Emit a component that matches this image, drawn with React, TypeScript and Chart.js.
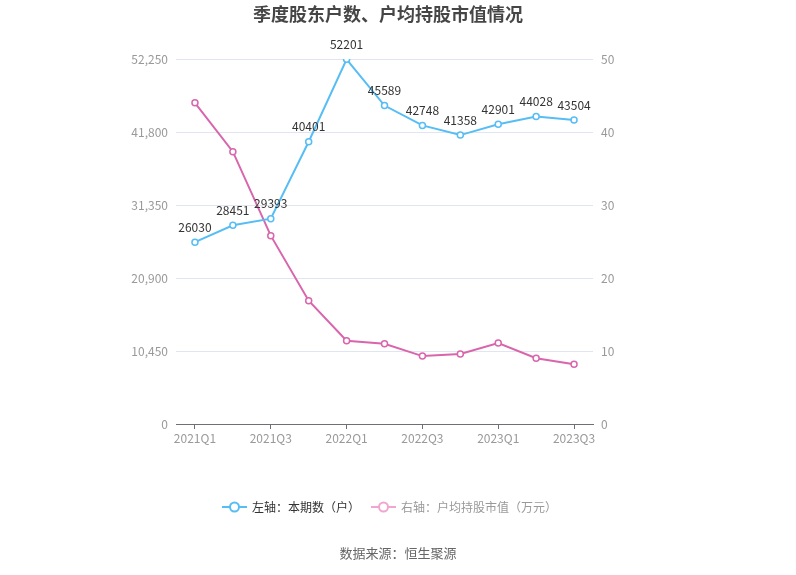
import React, { useEffect, useRef } from "react";
import { Chart, registerables } from "chart.js";

Chart.register(...registerables);

const categories = ["2021Q1", "2021Q2", "2021Q3", "2021Q4", "2022Q1", "2022Q2", "2022Q3", "2022Q4", "2023Q1", "2023Q2", "2023Q3"];
const holders = [26030, 28451, 29393, 40401, 52201, 45589, 42748, 41358, 42901, 44028, 43504];
const avgValue = [44.0, 37.3, 25.8, 16.9, 11.4, 11.0, 9.3, 9.6, 11.1, 9.0, 8.2];
const leftTicks = { min: 0, max: 52250, step: 10450 };
const rightTicks = { min: 0, max: 50, step: 10 };

const TITLE = "季度股东户数、户均持股市值情况";
const SOURCE = "数据来源：恒生聚源";
const LEGEND_LEFT = "左轴：本期数（户）";
const LEGEND_RIGHT = "右轴：户均持股市值（万元）";

const BLUE = "#56bdf5";
const PINK = "#d965ad";
const FONT = '"Noto Sans CJK SC", "Noto Sans", sans-serif';

const decorPlugin = {
  id: "decor",
  afterDatasetsDraw(chart: any) {
    const ctx = chart.ctx;
    ctx.save();
    // data labels
    const meta = chart.getDatasetMeta(0);
    ctx.font = `12px ${FONT}`;
    ctx.fillStyle = "#333";
    ctx.textAlign = "center";
    ctx.textBaseline = "middle";
    meta.data.forEach((pt: any, i: number) => {
      ctx.fillText(String(holders[i]), pt.x, pt.y - 15);
    });
    ctx.restore();
  },
  afterDraw(chart: any) {
    const ctx = chart.ctx;
    ctx.save();
    // title
    ctx.font = `bold 18px ${FONT}`;
    ctx.fillStyle = "#464646";
    ctx.textAlign = "center";
    ctx.textBaseline = "middle";
    ctx.fillText(TITLE, 388, 14);
    // source
    ctx.font = `13px ${FONT}`;
    ctx.fillStyle = "#666";
    ctx.fillText(SOURCE, 398, 553);
    // legend
    const ly = 507;
    const drawItem = (x0: number, color: string, text: string, textColor: string) => {
      ctx.strokeStyle = color;
      ctx.lineWidth = 2;
      ctx.beginPath();
      ctx.moveTo(x0, ly);
      ctx.lineTo(x0 + 25, ly);
      ctx.stroke();
      ctx.beginPath();
      ctx.arc(x0 + 12.5, ly, 4.5, 0, Math.PI * 2);
      ctx.fillStyle = "#fff";
      ctx.fill();
      ctx.stroke();
      ctx.font = `12px ${FONT}`;
      ctx.fillStyle = textColor;
      ctx.textAlign = "left";
      ctx.textBaseline = "middle";
      ctx.fillText(text, x0 + 30, ly);
    };
    drawItem(222, BLUE, LEGEND_LEFT, "#333");
    drawItem(371, "#f0a6cf", LEGEND_RIGHT, "#999");
    ctx.restore();
  },
};

export default function App() {
  const ref = useRef<HTMLCanvasElement>(null);
  useEffect(() => {
    if (!ref.current) return;
    const chart = new Chart(ref.current, {
      type: "line",
      data: {
        labels: categories,
        datasets: [
          {
            label: LEGEND_LEFT,
            data: holders,
            yAxisID: "y",
            borderColor: BLUE,
            backgroundColor: "#fff",
            borderWidth: 2,
            pointRadius: 3,
            pointBorderWidth: 1.5,
            pointBackgroundColor: "#fff",
            pointBorderColor: BLUE,
            tension: 0,
          },
          {
            label: LEGEND_RIGHT,
            data: avgValue,
            yAxisID: "y1",
            borderColor: PINK,
            backgroundColor: "#fff",
            borderWidth: 2,
            pointRadius: 3,
            pointBorderWidth: 1.5,
            pointBackgroundColor: "#fff",
            pointBorderColor: PINK,
            tension: 0,
          },
        ],
      },
      options: {
        responsive: false,
        animation: false,
        layout: { padding: { top: 59, bottom: 121, left: 0, right: 0 } },
        plugins: {
          legend: { display: false },
          title: { display: false },
          tooltip: { enabled: false },
        },
        scales: {
          x: {
            offset: true,
            grid: {
              offset: false,
              drawOnChartArea: false,
              drawTicks: true,
              tickLength: 5,
              color: (c: any) => (c.index % 2 === 0 ? "#6e7079" : "rgba(0,0,0,0)"),
            },
            border: { display: true, color: "#6e7079" },
            ticks: {
              autoSkip: false,
              maxRotation: 0,
              padding: 2,
              color: "#999",
              font: { family: FONT, size: 12 },
              callback: (_v: any, i: number) => (i % 2 === 0 ? categories[i] : ""),
            },
            afterFit: (s: any) => { s.height = 30; },
          },
          y: {
            position: "left",
            min: leftTicks.min,
            max: leftTicks.max,
            grid: { color: "#e0e6f1", drawTicks: false },
            border: { display: false },
            ticks: {
              stepSize: leftTicks.step,
              padding: 8,
              color: "#999",
              font: { family: FONT, size: 12 },
              callback: (v: any) => Number(v).toLocaleString("en-US"),
            },
            afterFit: (s: any) => { s.width = 176; },
          },
          y1: {
            position: "right",
            min: rightTicks.min,
            max: rightTicks.max,
            grid: { display: false, drawTicks: false },
            border: { display: false },
            ticks: {
              stepSize: rightTicks.step,
              padding: 8,
              color: "#999",
              font: { family: FONT, size: 12 },
            },
            afterFit: (s: any) => { s.width = 203; },
          },
        },
      },
      plugins: [decorPlugin],
    } as any);
    return () => chart.destroy();
  }, []);
  return (
    <div style={{ position: "absolute", left: 0, top: 0, width: 796, height: 575, background: "#fff" }}>
      <canvas ref={ref} width={796} height={575} />
    </div>
  );
}
